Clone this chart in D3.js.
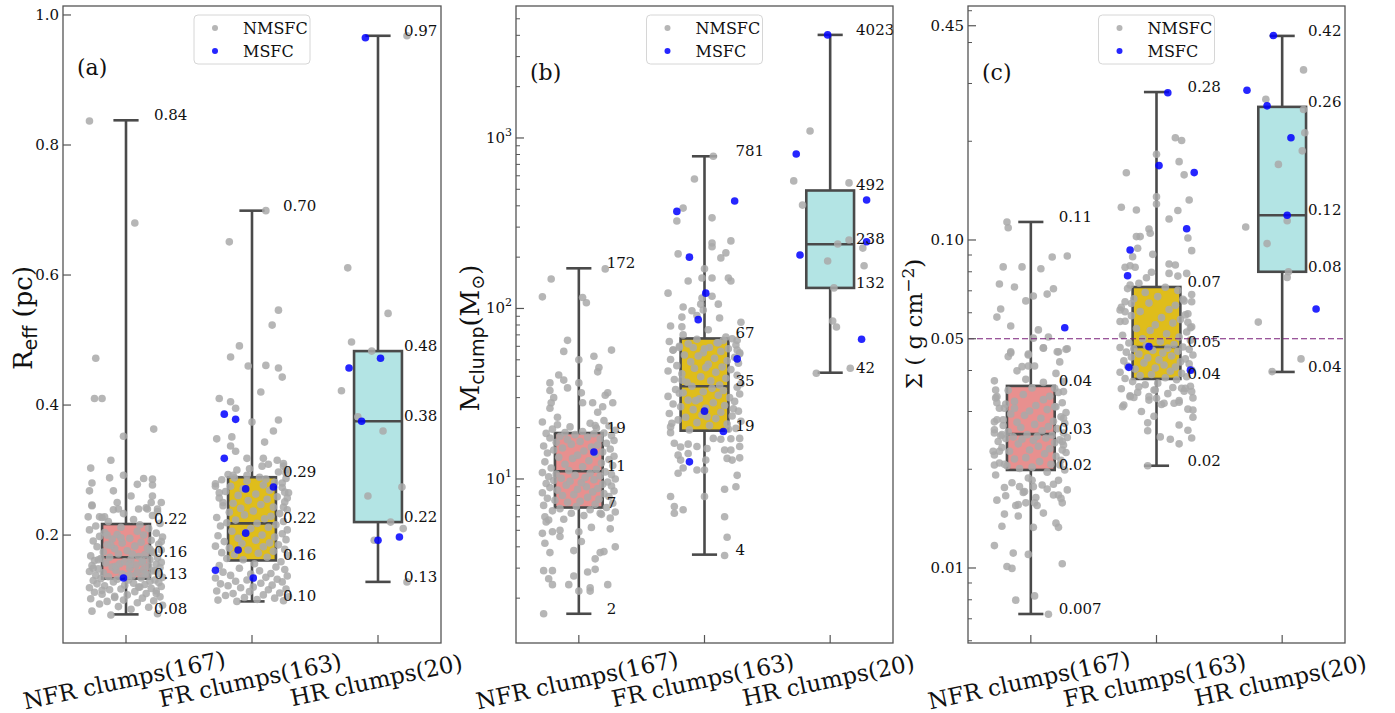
<!DOCTYPE html>
<html>
<head>
<meta charset="utf-8">
<script src="https://cdn.jsdelivr.net/npm/d3@7/dist/d3.min.js"></script>
<style>
  body { margin: 0; background: #fff; }
  text { font-family: "DejaVu Serif", serif; fill: #111; }
</style>
</head>
<body>
<script>
"use strict";
// ---- data ----
var groups = ["NFR clumps(167)", "FR clumps(163)", "HR clumps(20)"];
var boxColors = ["#e8908f", "#dfbd1b", "#b3e4e4"];

// hand-read horizontal offsets of the strip points (hundredths of a category step)
var jit = [-12,25,-27,4,18,-6,29,-21,9,-15,22,-2,-28,13,27,-9,1,-19,16,-25,7,24,-13,-4,20,-29,11,28,-17,-1,
  15,-23,6,26,-10,19,-26,2,23,-7,-20,12,29,-14,5,-24,17,-3,26,-18,9,-29,21,-8,14,-22,3,27,-11,18,
  -27,8,24,-5,-16,28,-1,13,-25,19,4,-20,25,-13,10,-28,15,-6,22,-18,1,28,-9,17,-23,7,-15,26,-3,12,
  -26,20,-11,3,29,-21,14,-7,24,-17,9,-29,18,-4,-24,11,27,-14,6,-19,21,-2,25,-10,16,-27,2,23,-8,13,
  -22,5,19,-12,28,-4,10,-19,24,-9,15,-26,3,20,-15,8,27,-21,-1,12];

// (a) effective radius, pc : [min, q1, median, q3, max]
var reffStats = [[0.078,0.133,0.166,0.217,0.838],[0.098,0.161,0.218,0.289,0.699],[0.128,0.22,0.375,0.483,0.968]];
var reffLabels = [["0.08","0.13","0.16","0.22","0.84"],["0.10","0.16","0.22","0.29","0.70"],["0.13","0.22","0.38","0.48","0.97"]];
var reffNfrBulk = [.077,.079,.083,.086,.089,.090,.092,.094,.096,.098,.099,.100,.102,.103,.105,.106,.108,.109,.110,.112,
  .113,.114,.116,.117,.118,.119,.120,.121,.122,.123,.124,.125,.126,.127,.128,.129,.130,.131,.131,.132,.133,.134,
  .135,.136,.137,.138,.139,.140,.141,.142,.143,.144,.145,.146,.147,.148,.149,.150,.151,.152,.153,.154,.155,.156,
  .157,.158,.159,.160,.161,.162,.163,.164,.165,.166,.167,.168,.170,.171,.173,.174,.176,.177,.179,.180,.182,.183,
  .185,.186,.188,.189,.191,.192,.194,.195,.197,.198,.200,.201,.203,.204,.206,.208,.210,.212,.214,.216,
  .218,.221,.224,.227,.230,.233,.236,.239,.242,.246,
  .138,.145,.152,.158,.162,.171,.178,.184,.19,.196,.12,.115,.11,.104,.141,.149,.155,.175,.2];
var reffFrBulk = [.098,.099,.100,.101,.103,.104,.105,.107,.108,.110,.111,.113,.114,.116,.117,.119,.120,.122,.123,.125,
  .126,.128,.129,.131,.132,.134,.135,.137,.138,.140,.141,.143,.145,.147,.149,.151,.153,.156,.159,
  .162,.164,.166,.168,.170,.172,.173,.175,.177,.178,.180,.182,.183,.185,.187,.188,.190,.192,.193,.195,.197,.199,
  .200,.202,.204,.206,.208,.210,.212,.214,.216,.218,.219,.221,.223,.225,.227,.229,.231,.233,.235,.237,.239,.241,
  .243,.245,.247,.249,.251,.253,.255,.257,.259,.261,.263,.265,.267,.269,.271,.273,.275,.277,.279,.281,.283,.285,
  .286,.287,.288,.289,.293,.297,.302,.306];
var reffGray = [
  [[-29,.837],[7,.68],[-24,.472],[-25,.41],[-19,.41],[22,.363],[-2,.352],[-12,.315],[-28,.303],[-2,.292],[-27,.28],
   [-13,.288],[14,.287],[21,.286],[9,.278],[21,.277],[-29,.268],[-10,.268],[4,.26],[21,.26],[-7,.25],[28,.25],[20,.25],
   [-27,.245],[-6,.24],[10,.24],[17,.24],[25,.24],[-30,.228],[-21,.228],[-17,.228]],
  [[11,.699],[-18,.651],[21,.546],[16,.523],[-10,.491],[-17,.474],[-3,.46],[11,.461],[21,.457],[24,.443],[7,.42],
   [-26,.41],[-17,.405],[-13,.395],[0,.374],[21,.377],[17,.36],[-28,.348],[-16,.351],[10,.343],[-17,.337],[-13,.329],
   [-4,.318],[9,.318],[20,.315],[25,.31],[8,.306],[13,.309],[-12,.3],[-15,.292],[-4,.292],[27,.3],[27,.295],[24,.28],
   [26,.266],[28,.257],[25,.243],[-29,.275],[-26,.265],[-23,.25]],
  [[23,.968],[-24,.611],[8,.541],[-21,.497],[-29,.422],[-16,.382],[4,.36],[19,.274],[-8,.26],[20,.21],[-3,.192],
   [23,.128],[10,.22],[-5,.483]]];
var reffBlue = [
  [[-2,.134]],
  [[-22,.386],[-13,.378],[-22,.318],[-5,.271],[17,.274],[-5,.203],[-11,.177],[-29,.146],[1,.134]],
  [[-10,.965],[2,.472],[-23,.457],[-13,.375],[0,.192],[17,.197]]];

// (b) clump mass, Msun
var massStats = [[1.62,6.8,11.1,18.6,172],[3.6,19.2,35,66.7,781],[42,132,238,492,4023]];
var massLabels = [["2","7","11","19","172"],["4","19","35","67","781"],["42","132","238","492","4023"]];
var massNfrBulk = [5.8,5.9,6.0,6.1,6.2,6.3,6.4,6.5,6.6,6.7,6.8,
  6.9,7.0,7.1,7.2,7.3,7.4,7.5,7.6,7.7,7.8,7.9,8.0,8.1,8.2,8.3,8.4,8.5,8.6,8.7,8.8,8.9,9.0,9.1,9.2,9.3,9.4,9.5,
  9.6,9.7,9.8,9.9,10.0,10.1,10.2,10.3,10.4,10.5,10.6,10.7,10.8,10.9,11.0,
  11.2,11.4,11.6,11.8,12.0,12.2,12.4,12.6,12.8,13.0,13.2,13.4,13.6,13.8,14.0,14.2,14.4,14.6,14.8,15.0,15.2,15.4,
  15.6,15.8,16.0,16.2,16.4,16.6,16.8,17.0,17.2,17.4,17.6,17.8,18.0,18.2,18.4,18.5,18.6,18.7,
  19.0,19.3,19.6,19.9,20.2,20.5,20.8,21.2,21.6];
var massFrBulk = [19.4,19.8,20.2,20.6,21.0,21.4,21.8,22.2,22.6,23.0,23.4,23.8,24.2,24.6,25.0,25.5,26.0,26.5,27.0,
  27.5,28.0,28.5,29.0,29.5,30.0,30.5,31.0,31.5,32.0,32.5,33.0,33.5,34.0,34.5,35.0,19.6,21.2,23.2,25.8,28.8,31.8,
  35.5,36.2,36.9,37.6,38.3,39.0,39.8,40.6,41.4,42.2,43.0,43.8,44.6,45.4,46.2,47.0,47.8,48.6,49.4,50.2,51.0,51.8,
  52.6,53.4,54.2,55.0,56.0,57.0,58.0,59.0,60.0,61.0,62.0,63.0,64.0,65.0,66.0,66.5,38,45,55];
var massGray = [
  [[21,170.6],[-22,149],[-29,117],[3,116],[6,108],[-9,65],[-12,56],[26,57],[12,52.5],[0,50],[16,45],[15,42.5],
   [-16,40.7],[-23,36.6],[-12,38],[-9,34.2],[0,36.6],[-23,33],[-20,30],[-22,28],[-23,26],[-17,23],[2,32],[3,28],
   [11,28],[15,24.6],[21,31],[23,32],[19,26.5],[27,28],[20,22],[13,20.6],
   [-24,5.75],[-26,5.6],[-21,4.9],[-29,4.8],[-15,5.0],[-15,4.6],[-27,4.2],[-23,3.7],[-28,2.9],[-21,2.9],[-24,2.6],
   [-21,2.4],[-8,2.4],[-4,2.7],[-4,3.8],[0,4.9],[2,4.3],[10,5.2],[17,6.3],[17,3.7],[20,3.75],[13,3.4],[13,2.95],
   [7,2.85],[9,2.3],[9,2.2],[0,2.2],[25,5.1],[29,4.0],[23,2.4],[-28,1.62]],
  [[7,781],[-8,575],[-17,388],[-22,326],[6,340],[-21,209],[21,249],[6,242],[6,230],[17,212],[13,198],[0,171],
   [-13,145],[-2,151],[6,151],[19,151],[21,145],[-29,123],[6,118],[-2,115],[-3,106],[-1,98],[-6,91],[-17,102],
   [-10,97],[-18,89],[11,106],[12,88],[29,83],[-27,79],[-18,78],[3,75],[-17,70],[-25,57],[-20,59],[-9,59],[0,58],
   [11,63],[17,68],[26,65],[26,57],
   [-27,18.7],[-24,16.2],[-19,15.4],[-13,16],[-6,15.5],[2,15.1],[7,17.3],[13,17.1],[21,17.2],[28,17.3],[28,15.5],
   [21,14.8],[16,14.8],[1,12.9],[18,13.2],[22,12.9],[28,13.3],[-13,14.1],[-21,13.8],[-19,12.9],[-17,11.6],[0,11.3],
   [-6,11.3],[0,7.9],[-21,10.8],[16,8.7],[25,9.0],[26,10.5],[-27,7.9],[-24,6.9],[-24,6.3],[-17,6.6],[16,6.0],
   [18,4.55],[16,3.56]],
  [[-16,1099],[-29,560],[15,545],[-22,404],[15,252],[6,239],[26,226],[-2,190],[27,178],[2,84.5],[5,77.8],
   [-11,41.7],[16,44.6],[3,132]]];
var massBlue = [
  [[12,14.4]],
  [[-22,371],[24,427],[-12,200],[1,123],[-5,86],[26,50.6],[0,25],[15,19],[-12,12.6]],
  [[-2,4023],[-27,805],[29,433],[29,246],[-24,206],[25,66]]];

// (c) surface density, g cm^-2
var sigmaStats = [[0.00724,0.0199,0.0256,0.0359,0.1135],[0.0205,0.0377,0.0472,0.0719,0.2825],[0.0396,0.080,0.119,0.2546,0.419]];
var sigmaLabels = [["0.007","0.02","0.03","0.04","0.11"],["0.02","0.04","0.05","0.07","0.28"],["0.04","0.08","0.12","0.26","0.42"]];
var sigmaNfrBulk = [.0155,.0158,.0161,.0164,.0167,.017,.0173,.0176,.0179,.0182,.0185,.0188,.0192,.0196,
  .0199,.0201,.0203,.0205,.0207,.0209,.0211,.0213,.0215,.0217,.0219,.0221,.0223,.0225,.0227,.0229,.0231,.0233,
  .0235,.0237,.0239,.0241,.0243,.0245,.0246,.0247,.0248,.0249,.025,.0251,.0252,.0253,.0254,.0255,
  .0258,.026,.0262,.0264,.0266,.0268,.027,.0272,.0274,.0276,.0278,.028,.0283,.0286,.0289,.0292,.0295,.0298,
  .0301,.0304,.0307,.031,.0313,.0316,.0319,.0322,.0326,.033,.0334,.0338,.0343,.0348,.0354];
var sigmaFrBulk = [.030,.0305,.031,.0315,.032,.0325,.033,.0335,.034,.0343,.0346,.0349,.0352,.0355,.0358,.0362,.0366,
  .037,.0375,.0378,.038,.0383,.0386,.0389,.0392,.0395,.0398,.0401,.0404,.0407,.041,.0413,.0416,.0419,.0422,.0425,
  .0428,.0431,.0434,.0437,.044,.0443,.0446,.0449,.0452,.0455,.0458,.0461,.0464,.0466,.0468,.047,.0472,
  .0476,.048,.0485,.049,.0495,.05,.0506,.0512,.0518,.0524,.053,.0537,.0544,.0551,.0558,.0565,.0572,.058,.0588,
  .0596,.0605,.0614,.0623,.0632,.0642,.0652,.0662,.0672,.0682,.0692,.0702,.0711,.0718];
var sigmaGray = [
  [[-19,.1135],[-18,.109],[-22,.0828],[-7,.0828],[8,.0817],[17,.0887],[29,.0894],[-25,.0734],[-13,.0719],[2,.0675],
   [13,.0684],[18,.071],[-4,.0652],[-24,.0616],[-27,.0582],[-16,.0547],[6,.0532],[14,.0506],[2,.0502],[10,.0469],
   [21,.0456],[29,.0466],[-2,.0449],[-16,.0456],
   [-16,.0452],[-18,.0441],[-2,.0446],[10,.0468],[22,.0456],[28,.0464],[23,.0425],[20,.0392],[26,.037],[-11,.0399],
   [-7,.0411],[-2,.0413],[3,.0413],[-4,.0376],[-29,.0372],[-28,.0349],[-27,.0333],[-27,.0319],[-21,.0307],
   [-13,.0307],[-29,.0279],[-22,.0283],[-29,.0258],[-23,.0255],[-30,.0227],[-25,.0227],[-29,.0206],[-21,.0207],
   [26,.0345],[26,.0286],[25,.0243],[25,.0229],[23,.0206],[20,.031],[19,.0353],[10,.0368],
   [-9,.0177],[-5,.0171],[13,.0174],[18,.018],[22,.0167],[24,.0163],[-20,.0166],[-10,.0156],[-4,.0158],[3,.0158],
   [5,.0155],[-10,.0144],[-21,.0146],[-23,.0134],[10,.0147],[20,.0137],[22,.0133],[2,.0133],[-29,.0117],
   [-14,.0111],[-19,.0101],[-15,.00997],[-2,.011],[25,.0103],[-12,.00798],[3,.00822],[14,.00723],[1,.0185],[2,.0177]],
  [[15,.205],[20,.201],[0,.1825],[18,.1733],[-24,.1604],[22,.158],[0,.1355],[0,.1288],[26,.1324],[-28,.1259],
   [-16,.1234],[17,.123],[10,.1159],[-6,.108],[-5,.1048],[-16,.1024],[-13,.1024],[25,.1014],[-15,.0944],
   [-19,.0889],[-3,.0904],[28,.0928],[-25,.0826],[-21,.0835],[-17,.0826],[10,.0845],[15,.0839],[-4,.0797],
   [-8,.0767],[10,.0791],[17,.0776],[24,.0791],[-21,.0729],[-14,.0738],
   [-25,.0648],[-20,.064],[28,.0648],[21,.066],[-29,.0612],[-25,.0604],[-29,.0564],[23,.0591],[25,.0561],[27,.054],
   [-26,.0314],[-21,.0333],[-18,.0331],[-6,.0333],[0,.0329],[6,.0318],[14,.0318],[18,.0324],[20,.0353],[23,.0353],
   [28,.0345],[29,.0303],[29,.0288],[28,.0249],[25,.0263],[18,.0273],[18,.0239],[11,.0247],[3,.0251],[-2,.029],
   [-7,.0277],[-7,.0262],[-1,.0349],[-14,.0357],[-7,.0205]],
  [[17,.33],[-13,.2685],[17,.25],[18,.2124],[16,.187],[4,.1145],[-29,.1096],[-12,.0975],[4,.0769],[-19,.0562],
   [15,.0434],[-8,.0397],[5,.08],[-3,.17]]];
var sigmaBlue = [
  [[27,.054]],
  [[9,.281],[2,.1686],[30,.1605],[24,.1082],[-21,.0932],[-23,.0778],[-6,.0473],[-22,.0409],[27,.0401]],
  [[-7,.42],[-28,.286],[-12,.2564],[7,.205],[4,.119],[27,.0616]]];
var sigmaTicks = [0.01, 0.05, 0.1, 0.45];
var sigmaTickLabels = ["0.01", "0.05", "0.10", "0.45"];
var sigmaThreshold = 0.05;

// ---- drawing ----
var W = 1395, H = 713, TOP = 6, BOTTOM = 643;
var AX = "#555555", LINE = "#4a4a4a", GRAY = "#a9a9a9", BLUE = "#0000ff";
var annoOff = [0.222, 0.246, 0.206];

var svg = d3.select("body").append("svg").attr("width", W).attr("height", H);

function logMinors(y) {
  var d = y.domain(), out = [];
  for (var e = Math.floor(Math.log10(d[0])); e <= Math.ceil(Math.log10(d[1])); e++) {
    for (var m = 2; m <= 9; m++) {
      var v = m * Math.pow(10, e);
      if (v >= d[0] && v <= d[1]) out.push(v);
    }
  }
  return out;
}

function drawPanel(p) {
  var x = d3.scaleLinear().domain([-0.5, 2.5]).range([p.left, p.right]);
  var y = p.y;
  var step = x(1) - x(0);
  var g = svg.append("g");

  // boxes and whiskers
  p.stats.forEach(function(s, i) {
    var cx = x(i), hw = step * 0.19, cw = step * 0.1;
    var lines = [[cx, y(s[3]), cx, y(s[4])], [cx, y(s[1]), cx, y(s[0])],
                 [cx - cw, y(s[4]), cx + cw, y(s[4])], [cx - cw, y(s[0]), cx + cw, y(s[0])]];
    lines.forEach(function(l) {
      g.append("line").attr("x1", l[0]).attr("y1", l[1]).attr("x2", l[2]).attr("y2", l[3])
        .attr("stroke", LINE).attr("stroke-width", 2.6);
    });
    g.append("rect").attr("x", cx - hw).attr("y", y(s[3]))
      .attr("width", 2 * hw).attr("height", y(s[1]) - y(s[3]))
      .attr("fill", boxColors[i]).attr("stroke", LINE).attr("stroke-width", 2.6);
    g.append("line").attr("x1", cx - hw).attr("x2", cx + hw).attr("y1", y(s[2])).attr("y2", y(s[2]))
      .attr("stroke", LINE).attr("stroke-width", 2.6);
  });

  // strip points
  var pts = [];
  p.bulk.forEach(function(vals, i) {
    vals.forEach(function(v, k) { pts.push({ x: i + jit[k] / 100, v: v, c: GRAY }); });
  });
  p.gray.forEach(function(arr, i) {
    arr.forEach(function(d) { pts.push({ x: i + d[0] / 100, v: d[1], c: GRAY }); });
  });
  p.blue.forEach(function(arr, i) {
    arr.forEach(function(d) { pts.push({ x: i + d[0] / 100, v: d[1], c: BLUE }); });
  });
  g.selectAll("circle.pt").data(pts).enter().append("circle")
    .attr("class", "pt")
    .attr("cx", function(d) { return x(d.x); })
    .attr("cy", function(d) { return y(d.v); })
    .attr("r", 3.8)
    .attr("fill", function(d) { return d.c; })
    .attr("fill-opacity", 0.85);

  if (p.threshold) {
    g.append("line").attr("x1", p.left).attr("x2", p.right)
      .attr("y1", y(p.threshold)).attr("y2", y(p.threshold))
      .attr("stroke", "#7a1f7a").attr("stroke-width", 1.2).attr("stroke-dasharray", "6,3");
  }

  // value annotations
  p.stats.forEach(function(s, i) {
    s.forEach(function(v, k) {
      g.append("text").attr("x", x(i) + step * annoOff[i]).attr("y", y(v) - 5)
        .attr("dominant-baseline", "central").attr("font-size", 15)
        .text(p.labels[i][k]);
    });
  });

  // frame
  g.append("rect").attr("x", p.left).attr("y", TOP).attr("width", p.right - p.left)
    .attr("height", BOTTOM - TOP).attr("fill", "none").attr("stroke", AX).attr("stroke-width", 1.3);

  // y ticks (inward)
  p.majors.forEach(function(v, k) {
    g.append("line").attr("x1", p.left).attr("x2", p.left + 8).attr("y1", y(v)).attr("y2", y(v))
      .attr("stroke", AX).attr("stroke-width", 1.2);
    var t = g.append("text").attr("x", p.left - 4).attr("y", y(v)).attr("text-anchor", "end")
      .attr("dominant-baseline", "central").attr("font-size", 15);
    if (p.power) {
      t.append("tspan").text("10");
      t.append("tspan").attr("font-size", 11).attr("dy", -6).text(String(Math.round(Math.log10(v))));
    } else {
      t.text(p.tickLabels[k]);
    }
  });
  (p.minors || []).forEach(function(v) {
    if (p.majors.indexOf(v) >= 0) return;
    g.append("line").attr("x1", p.left).attr("x2", p.left + 4).attr("y1", y(v)).attr("y2", y(v))
      .attr("stroke", AX).attr("stroke-width", 1);
  });

  // x ticks and rotated category labels
  groups.forEach(function(name, i) {
    g.append("line").attr("x1", x(i)).attr("x2", x(i)).attr("y1", BOTTOM).attr("y2", BOTTOM - 8)
      .attr("stroke", AX).attr("stroke-width", 1.2);
    g.append("text").attr("x", x(i)).attr("y", 688).attr("text-anchor", "middle")
      .attr("font-size", 23).attr("transform", "rotate(-12," + x(i) + ",688)").text(name);
  });

  // y axis title
  var yl = g.append("text").attr("text-anchor", "middle").attr("font-size", p.titleSize)
    .attr("transform", "translate(" + p.titleX + "," + p.titleY + ") rotate(-90)");
  p.title(yl);

  // panel tag
  g.append("text").attr("x", p.left + 14).attr("y", p.tagY).attr("font-size", 22).text(p.tag);

  // legend
  var lx = (p.left + p.right) / 2 - 58;
  var lg = g.append("g");
  lg.append("rect").attr("x", lx).attr("y", 15).attr("width", 116).attr("height", 49).attr("rx", 4)
    .attr("fill", "#fff").attr("fill-opacity", 0.8).attr("stroke", "#d6d6d6").attr("stroke-width", 1);
  [["NMSFC", GRAY, 28], ["MSFC", BLUE, 51]].forEach(function(e) {
    lg.append("circle").attr("cx", lx + 21).attr("cy", e[2]).attr("r", 3).attr("fill", e[1]).attr("fill-opacity", 0.85);
    lg.append("text").attr("x", lx + 49).attr("y", e[2]).attr("dominant-baseline", "central")
      .attr("font-size", 16).text(e[0]);
  });
}

var yReff = d3.scaleLinear().domain([0.034, 1.0138]).range([BOTTOM, TOP]);
var yMass = d3.scaleLog().domain([Math.pow(10, 0.038), Math.pow(10, 3.774)]).range([BOTTOM, TOP]);
var ySigma = d3.scaleLog().domain([Math.pow(10, -2.2287), Math.pow(10, -0.2866)]).range([BOTTOM, TOP]);

drawPanel({
  left: 63, right: 441, y: yReff, stats: reffStats, labels: reffLabels,
  bulk: [reffNfrBulk, reffFrBulk, []], gray: reffGray, blue: reffBlue,
  majors: [0.2, 0.4, 0.6, 0.8, 1.0], tickLabels: ["0.2", "0.4", "0.6", "0.8", "1.0"],
  tag: "(a)", tagY: 75, titleX: 32, titleY: 318, titleSize: 26,
  title: function(t) {
    t.append("tspan").text("R");
    t.append("tspan").attr("font-family", "DejaVu Sans").attr("font-size", 19).attr("dy", 5).text("eff");
    t.append("tspan").attr("dy", -5).text(" (pc)");
  }
});
drawPanel({
  left: 516, right: 893, y: yMass, stats: massStats, labels: massLabels,
  bulk: [massNfrBulk, massFrBulk, []], gray: massGray, blue: massBlue,
  majors: [10, 100, 1000], power: true, minors: logMinors(yMass),
  tag: "(b)", tagY: 80, titleX: 479, titleY: 338, titleSize: 26,
  title: function(t) {
    t.append("tspan").text("M");
    t.append("tspan").attr("font-family", "DejaVu Sans").attr("font-size", 19).attr("dy", 5).text("clump");
    t.append("tspan").attr("dy", -5).text("(M");
    t.append("tspan").attr("font-size", 18).attr("dy", 5).text("\u2299");
    t.append("tspan").attr("dy", -5).text(")");
  }
});
drawPanel({
  left: 968, right: 1345, y: ySigma, stats: sigmaStats, labels: sigmaLabels,
  bulk: [sigmaNfrBulk, sigmaFrBulk, []], gray: sigmaGray, blue: sigmaBlue,
  majors: sigmaTicks, tickLabels: sigmaTickLabels, minors: logMinors(ySigma), threshold: sigmaThreshold,
  tag: "(c)", tagY: 80, titleX: 922, titleY: 324, titleSize: 23,
  title: function(t) {
    t.append("tspan").text("\u03a3 ( g cm");
    t.append("tspan").attr("font-size", 17).attr("dy", -8).text("\u22122");
    t.append("tspan").attr("dy", 8).text(")");
  }
});
</script>
</body>
</html>
